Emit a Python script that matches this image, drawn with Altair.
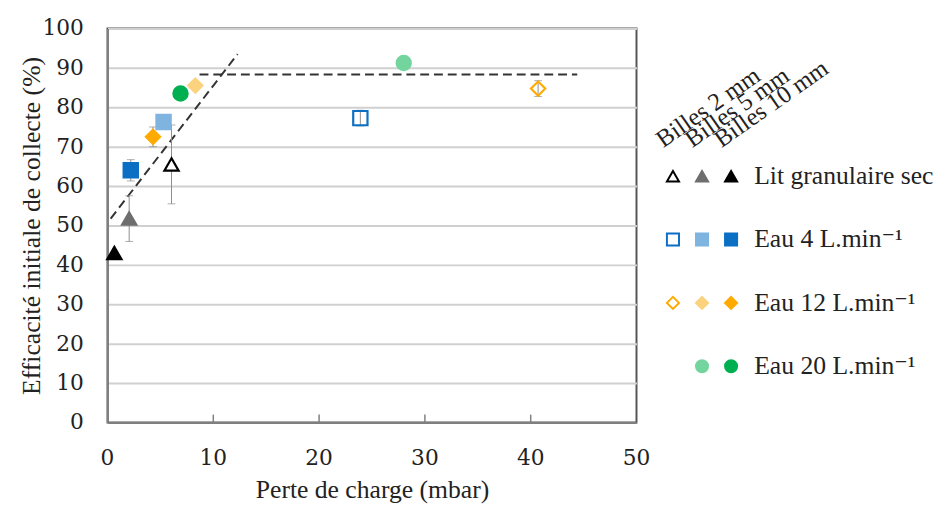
import altair as alt
import pandas as pd

# ---------------- data ----------------
series_names = ["Lit granulaire sec", "Eau 4 L.min⁻¹", "Eau 12 L.min⁻¹", "Eau 20 L.min⁻¹"]
bead_sizes = ["Billes 2 mm", "Billes 5 mm", "Billes 10 mm"]

pt_series = [0, 0, 0, 1, 1, 1, 2, 2, 2, 3, 3]
pt_size = [0, 1, 2, 0, 1, 2, 0, 1, 2, 1, 2]
pt_x = [6.05, 2.05, 0.65, 23.9, 5.3, 2.2, 40.7, 8.3, 4.3, 28.0, 6.9]
pt_y = [65.5, 51.75, 43.0, 77.25, 76.25, 64.0, 84.75, 85.5, 72.5, 91.25, 83.5]
pt_err = [10.0, 5.8, 0.0, 2.0, 0.0, 2.7, 2.0, 0.0, 2.5, 0.0, 0.0]

fit_id = ["pente", "pente", "plateau", "plateau"]
fit_x = [0.3, 12.3, 8.7, 44.4]
fit_y = [51.75, 93.5, 88.3, 88.3]

x_ticks = [0, 10, 20, 30, 40, 50]
y_ticks = [0, 10, 20, 30, 40, 50, 60, 70, 80, 90, 100]
inner_ticks = [10, 20, 30, 40]

x_title = "Perte de charge (mbar)"
y_title = "Efficacité initiale de collecte (%)"

# ---------------- styles ----------------
FONT = "Liberation Serif, DejaVu Serif, serif"
DIGITS = "DejaVu Serif, serif"
TXT = "#222222"
shapes = ["triangle-up", "square", "diamond", "circle"]
strong = ["#000000", "#0B6FC4", "#FFAA00", "#00B050"]
light = ["#6E6E6E", "#7FB3E0", "#FBD27E", "#73D59E"]
open_fill = ["#FFFFFF", "transparent", "transparent", "transparent"]


def fill_of(s, b):
    return [open_fill[s], light[s], strong[s]][b]


def stroke_of(s, b):
    return [strong[s], light[s], strong[s]][b]


pts = pd.DataFrame({
    "x": pt_x, "y": pt_y,
    "lo": [y - e for y, e in zip(pt_y, pt_err)],
    "hi": [y + e for y, e in zip(pt_y, pt_err)],
    "err": pt_err,
    "shape": [shapes[s] for s in pt_series],
    "fill": [fill_of(s, b) for s, b in zip(pt_series, pt_size)],
    "stroke": [stroke_of(s, b) for s, b in zip(pt_series, pt_size)],
})
errs = pts[pts["err"] > 0]
fits = pd.DataFrame({"id": fit_id, "x": fit_x, "y": fit_y})
tk = pd.DataFrame({"x": inner_ticks, "y": [y_ticks[0]] * len(inner_ticks),
                   "y2": [y_ticks[0] + 2] * len(inner_ticks)})
xlab = pd.DataFrame({"x": x_ticks, "y": [y_ticks[0]] * len(x_ticks),
                     "t": [str(v) for v in x_ticks]})
ylab = pd.DataFrame({"x": [x_ticks[0]] * len(y_ticks), "y": y_ticks,
                     "t": [str(v) for v in y_ticks]})

xs = alt.Scale(domain=[0, 50], nice=False)
ys = alt.Scale(domain=[0, 100], nice=False)

x_axis = alt.Axis(values=x_ticks, title=x_title, labels=False, ticks=False, grid=False,
                  titlePadding=55)
y_axis = alt.Axis(values=y_ticks, title=y_title, labels=False, ticks=False, grid=True,
                  titlePadding=64)

X = alt.X("x:Q", scale=xs, axis=x_axis)
Y = alt.Y("y:Q", scale=ys, axis=y_axis)

inner = alt.Chart(tk).mark_rule(color="#7F7F7F", strokeWidth=1.5).encode(
    x=X, y=Y, y2="y2:Q",
)

lines = alt.Chart(fits).mark_line(color="#333333", strokeWidth=2, strokeDash=[9, 5]).encode(
    x=X, y=Y, detail="id:N",
)

bars = alt.Chart(errs).mark_rule(color="#8C8C8C", strokeWidth=1).encode(
    x=X, y=alt.Y("lo:Q", scale=ys, axis=y_axis), y2="hi:Q",
)
cap_lo = alt.Chart(errs).mark_tick(color="#8C8C8C", thickness=1, size=8, orient="horizontal").encode(
    x=X, y=alt.Y("lo:Q", scale=ys, axis=y_axis))
cap_hi = alt.Chart(errs).mark_tick(color="#8C8C8C", thickness=1, size=8, orient="horizontal").encode(
    x=X, y=alt.Y("hi:Q", scale=ys, axis=y_axis))

points = alt.Chart(pts).mark_point(filled=True, opacity=1, fillOpacity=1, size=210, strokeWidth=2.2).encode(
    x=X, y=Y,
    shape=alt.Shape("shape:N", scale=None),
    fill=alt.Fill("fill:N", scale=None),
    stroke=alt.Stroke("stroke:N", scale=None),
)

xticklab = alt.Chart(xlab).mark_text(align="center", baseline="alphabetic", dy=43,
                                     font=DIGITS, fontSize=22, color=TXT).encode(
    x=X, y=Y, text="t:N")
yticklab = alt.Chart(ylab).mark_text(align="right", baseline="middle", dx=-24,
                                     font=DIGITS, fontSize=22, color=TXT).encode(
    x=X, y=Y, text="t:N")

main = alt.layer(lines, inner, bars, cap_lo, cap_hi, points, xticklab, yticklab).properties(
    width=537, height=400,
    view=alt.ViewBackground(stroke="#555555", strokeWidth=2),
)

# ---------------- legend panel ----------------
leg_sym = pd.DataFrame({
    "col": pt_size, "row": pt_series,
    "shape": [shapes[s] for s in pt_series],
    "fill": [fill_of(s, b) if b else "#FFFFFF" for s, b in zip(pt_series, pt_size)],
    "stroke": [stroke_of(s, b) for s, b in zip(pt_series, pt_size)],
})
leg_lab = pd.DataFrame({"col": [3] * len(series_names), "row": list(range(len(series_names))),
                        "txt": series_names})
leg_head = pd.DataFrame({"col": list(range(len(bead_sizes))), "row": [-0.55] * len(bead_sizes),
                         "txt": bead_sizes})

lx = alt.Scale(domain=[-0.746, 8.915], nice=False, zero=False)
ly = alt.Scale(domain=[-2.333, 3.888], nice=False, zero=False, reverse=True)

sym = alt.Chart(leg_sym).mark_point(filled=True, opacity=1, fillOpacity=1, size=150, strokeWidth=2).encode(
    x=alt.X("col:Q", scale=lx, axis=None),
    y=alt.Y("row:Q", scale=ly, axis=None),
    shape=alt.Shape("shape:N", scale=None),
    fill=alt.Fill("fill:N", scale=None),
    stroke=alt.Stroke("stroke:N", scale=None),
)
lab = alt.Chart(leg_lab).mark_text(align="left", baseline="middle", dx=-6, font=FONT,
                                   fontSize=26, color=TXT).encode(
    x=alt.X("col:Q", scale=lx, axis=None),
    y=alt.Y("row:Q", scale=ly, axis=None),
    text="txt:N",
)
head = alt.Chart(leg_head).mark_text(align="left", baseline="alphabetic", dx=-12, angle=325,
                                     font=FONT, fontSize=25, color=TXT).encode(
    x=alt.X("col:Q", scale=lx, axis=None),
    y=alt.Y("row:Q", scale=ly, axis=None),
    text="txt:N",
)
legend = alt.layer(sym, lab, head).properties(
    width=285, height=400,
    view=alt.ViewBackground(stroke=None),
)

chart = alt.hconcat(main, legend, spacing=0).properties(
    padding={"left": 10, "top": 5, "right": 0, "bottom": 0},
).configure(background="white", font=FONT).configure_axis(
    titleFont=FONT, titleFontSize=26, titleFontWeight="normal", titleColor=TXT,
    domainColor="#7F7F7F", domainWidth=2,
    gridColor="#D0D0D0", gridWidth=2,
)

chart.save("out.html", embed_options={"renderer": "svg", "actions": False})
